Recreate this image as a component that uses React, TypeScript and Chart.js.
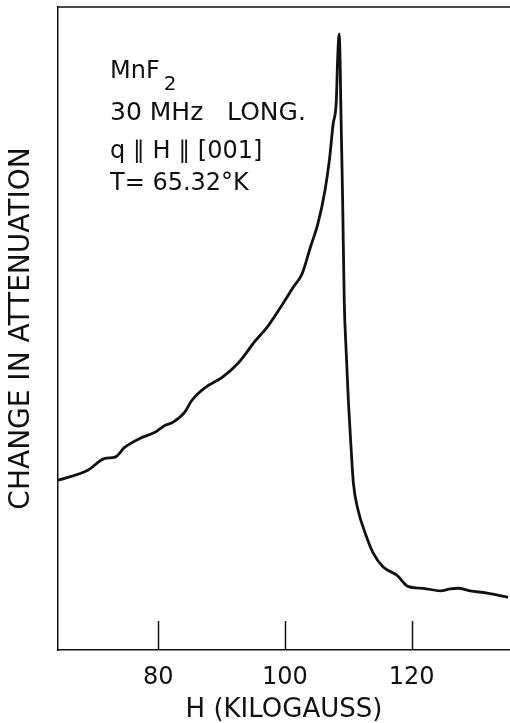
import { useEffect, useRef } from "react";
import { Chart, registerables } from "chart.js";

Chart.register(...registerables);

// Magnetic field H (kilogauss)
const fieldKG = [
  64.2, 68.9, 71.6, 73.2, 74.7, 77.1, 79.5, 81.05, 82.3, 84.2, 85.3, 87.4, 90.1, 92.6, 94.2, 95.0,
  97.2, 99.7, 101.3, 102.7, 104.0, 105.2, 106.3, 107.0, 107.6, 108.1, 108.3, 108.55, 108.7, 108.8,
  109.1, 109.35, 109.65, 110.0, 110.45, 110.8, 111.55, 112.65, 113.9, 115.5, 117.7, 119.4, 121.8,
  124.5, 126.1, 127.3, 129.2, 131.9, 135.2,
];
// Change in attenuation (arbitrary units)
const attenuation = [
  26.4, 27.95, 29.8, 30.0, 31.5, 32.9, 33.85, 34.9, 35.4, 37.0, 38.8, 40.8, 42.4, 44.6, 46.6, 47.7,
  50.2, 53.9, 56.4, 58.5, 62.6, 66.3, 71.4, 76.1, 81.8, 85.4, 91.6, 95.8, 91.6, 85.4,
  69.9, 54.3, 46.6, 38.8, 31.1, 25.9, 21.7, 18.2, 15.1, 12.9, 11.6, 9.9, 9.6,
  9.2, 9.5, 9.6, 9.2, 8.85, 8.2,
];
const xTicks = [80, 100, 120];
const xTitle = "H (KILOGAUSS)";
const yTitle = "CHANGE IN ATTENUATION";
const noteSample = "MnF";
const noteSub = "2";
const noteLines = ["30 MHz   LONG.", "q ∥ H ∥ [001]", "T= 65.32°K"];

const FONT = "'DejaVu Sans', sans-serif";
const INK = "#111";

export default function App() {
  const ref = useRef<HTMLCanvasElement>(null);

  useEffect(() => {
    const canvas = ref.current;
    if (!canvas) return;

    const framePlugin = {
      id: "frame",
      afterDraw(chart: any) {
        const { ctx, chartArea: a, scales } = chart;
        ctx.save();
        ctx.strokeStyle = INK;
        ctx.lineWidth = 1.5;
        ctx.beginPath();
        ctx.moveTo(a.left, a.top);
        ctx.lineTo(a.right, a.top);
        for (const t of xTicks) {
          const x = Math.round(scales.x.getPixelForValue(t)) + 0.5;
          ctx.moveTo(x, a.bottom);
          ctx.lineTo(x, a.bottom - 29);
        }
        ctx.stroke();

        ctx.fillStyle = INK;
        ctx.textBaseline = "alphabetic";
        ctx.textAlign = "left";
        const x0 = a.left + 52;
        ctx.font = `24px ${FONT}`;
        ctx.fillText(noteSample, x0, 78);
        const w = ctx.measureText(noteSample).width;
        ctx.font = `20px ${FONT}`;
        ctx.fillText(noteSub, x0 + w + 4, 90);
        const baselines = [120, 158, 190];
        const sizes = [25, 24, 24];
        noteLines.forEach((s, i) => {
          ctx.font = `${sizes[i]}px ${FONT}`;
          ctx.fillText(s, x0, baselines[i]);
        });
        ctx.restore();
      },
    };

    const chart = new Chart(canvas, {
      type: "line",
      data: {
        datasets: [
          {
            data: fieldKG.map((x, i) => ({ x, y: attenuation[i] })),
            borderColor: INK,
            borderWidth: 2.8,
            pointRadius: 0,
            fill: false,
            cubicInterpolationMode: "monotone",
          },
        ],
      },
      options: {
        responsive: false,
        animation: false,
        devicePixelRatio: 1,
        layout: { padding: { top: 7, left: 0, right: 0, bottom: 0 } },
        plugins: { legend: { display: false }, tooltip: { enabled: false } },
        scales: {
          x: {
            type: "linear",
            min: 64.2,
            max: 135.5,
            afterBuildTicks: (s: any) => {
              s.ticks = xTicks.map((v) => ({ value: v }));
            },
            grid: { display: false, drawTicks: true, tickLength: 13.6 },
            border: { display: true, color: INK, width: 1.5 },
            ticks: {
              color: INK,
              font: { family: FONT, size: 24 },
              padding: 0,
              maxRotation: 0,
              autoSkip: false,
            },
            title: {
              display: true,
              text: xTitle,
              color: INK,
              font: { family: FONT, size: 26, lineHeight: 1 },
              padding: { top: 4.6, bottom: 0 },
            },
          },
          y: {
            type: "linear",
            min: 0,
            max: 100,
            grid: { display: false, drawTicks: false },
            border: { display: true, color: INK, width: 1.5 },
            ticks: { display: false },
            title: {
              display: true,
              text: yTitle,
              color: INK,
              font: { family: FONT, size: 28 },
              padding: { top: 5.2, bottom: 19.2 },
            },
          },
        },
      },
      plugins: [framePlugin],
    } as any);

    return () => chart.destroy();
  }, []);

  return (
    <div style={{ position: "absolute", left: 0, top: 0, width: 510, height: 723, background: "#fff" }}>
      <canvas ref={ref} width={510} height={723} style={{ width: 510, height: 723, display: "block" }} />
    </div>
  );
}
